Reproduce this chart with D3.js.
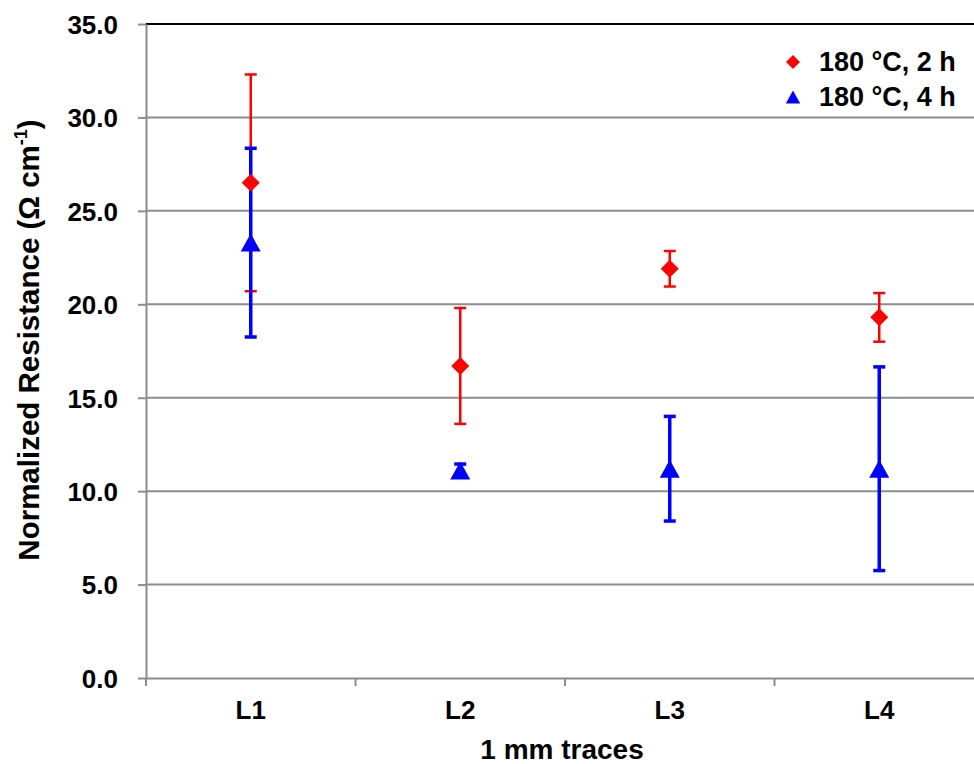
<!DOCTYPE html>
<html lang="en">
<head>
  <meta charset="UTF-8">
  <title>Normalized Resistance, 1 mm traces</title>
  <script src="https://d3js.org/d3.v7.min.js"></script>
  <style>
    body {
      margin: 0;
      background: #fff;
      font-family: Arial, "Liberation Sans", sans-serif;
    }
    svg text {
      font-weight: bold;
      fill: #000;
    }
  </style>
</head>
<body>
  <svg width="974" height="764"></svg>

  <script>
    // data
    const categories = ["L1", "L2", "L3", "L4"];
    const series2h = [26.5, 16.7, 21.9, 19.3];
    const err2h = [5.8, 3.1, 0.95, 1.3];
    const series4h = [23.3, 11.1, 11.2, 11.2];
    const err4h = [5.05, 0.35, 2.8, 5.45];
    const yTicks = [0, 5, 10, 15, 20, 25, 30, 35];
    const legendLabels = ["180 \u00B0C, 2 h", "180 \u00B0C, 4 h"];

    const svg = d3.select("svg");

    const x = d3.scaleBand()
      .domain(categories)
      .range([146, 984]);

    const y = d3.scaleLinear()
      .domain([0, 35])
      .range([678, 24]);

    // gridlines
    svg.append("g")
      .selectAll("line")
      .data(yTicks.filter(d => d > 0 && d < 35))
      .enter()
      .append("line")
      .attr("x1", 146)
      .attr("x2", 974)
      .attr("y1", d => y(d))
      .attr("y2", d => y(d))
      .attr("stroke", "#8c8c8c")
      .attr("stroke-width", 2);

    // top border
    svg.append("line")
      .attr("x1", 146).attr("x2", 974)
      .attr("y1", y(35)).attr("y2", y(35))
      .attr("stroke", "#000")
      .attr("stroke-width", 2);

    // y axis
    const yAxis = svg.append("g")
      .attr("transform", "translate(146,0)")
      .call(d3.axisLeft(y).tickValues(yTicks).tickFormat(d3.format(".1f")).tickSize(8).tickSizeOuter(0));
    yAxis.select(".domain").attr("stroke", "#8c8c8c").attr("stroke-width", 2);
    yAxis.selectAll(".tick line").attr("stroke", "#8c8c8c").attr("stroke-width", 2);
    yAxis.selectAll(".tick text")
      .attr("x", -28)
      .attr("dy", "0.36em")
      .attr("font-size", "26px")
      .attr("font-family", "Arial, 'Liberation Sans', sans-serif");

    // x axis
    const xAxis = svg.append("g")
      .attr("transform", `translate(0,${y(0)})`)
      .call(d3.axisBottom(x).tickSize(0).tickSizeOuter(0));
    xAxis.select(".domain").attr("stroke", "#8c8c8c").attr("stroke-width", 2);
    xAxis.selectAll(".tick text")
      .attr("y", 23)
      .attr("font-size", "26px")
      .attr("font-family", "Arial, 'Liberation Sans', sans-serif");

    // category boundary ticks
    const bounds = categories.map(c => x(c)).concat([x.range()[1]]);
    svg.append("g")
      .selectAll("line")
      .data(bounds)
      .enter()
      .append("line")
      .attr("x1", d => d).attr("x2", d => d)
      .attr("y1", y(0)).attr("y2", y(0) + 8)
      .attr("stroke", "#8c8c8c")
      .attr("stroke-width", 2);

    // axis titles
    svg.append("text")
      .attr("x", 562)
      .attr("y", 759)
      .attr("text-anchor", "middle")
      .attr("font-size", "28px")
      .text("1 mm traces");

    const yTitle = svg.append("text")
      .attr("transform", "translate(39,340) rotate(-90)")
      .attr("text-anchor", "middle")
      .attr("font-size", "29.5px");
    yTitle.append("tspan").text("Normalized Resistance (\u03A9 cm");
    yTitle.append("tspan").attr("font-size", "18px").attr("dy", -12).text("-1");
    yTitle.append("tspan").attr("dy", 12).text(")");

    const cx = c => x(c) + x.bandwidth() / 2;

    function errorBars(vals, errs, color, width) {
      const g = svg.append("g")
        .selectAll("g")
        .data(categories)
        .enter()
        .append("g")
        .attr("stroke", color)
        .attr("stroke-width", width);
      g.append("line")
        .attr("x1", d => cx(d)).attr("x2", d => cx(d))
        .attr("y1", (d, i) => y(vals[i] + errs[i]))
        .attr("y2", (d, i) => y(vals[i] - errs[i]));
      g.append("line")
        .attr("x1", d => cx(d) - 6).attr("x2", d => cx(d) + 6)
        .attr("y1", (d, i) => y(vals[i] + errs[i]))
        .attr("y2", (d, i) => y(vals[i] + errs[i]));
      g.append("line")
        .attr("x1", d => cx(d) - 6).attr("x2", d => cx(d) + 6)
        .attr("y1", (d, i) => y(vals[i] - errs[i]))
        .attr("y2", (d, i) => y(vals[i] - errs[i]));
    }

    errorBars(series2h, err2h, "#ff0000", 2.5);
    errorBars(series4h, err4h, "#0000ff", 3.5);

    const diamond = "M0,-9L9,0L0,9L-9,0Z";
    const triangle = "M0,-9L10,9L-10,9Z";

    svg.append("g")
      .selectAll("path")
      .data(categories)
      .enter()
      .append("path")
      .attr("d", diamond)
      .attr("fill", "#ff0000")
      .attr("transform", (d, i) => `translate(${cx(d)},${y(series2h[i])})`);

    svg.append("g")
      .selectAll("path")
      .data(categories)
      .enter()
      .append("path")
      .attr("d", triangle)
      .attr("fill", "#0000ff")
      .attr("transform", (d, i) => `translate(${cx(d)},${y(series4h[i])})`);

    // legend
    const legend = svg.append("g");
    const markers = [diamond, triangle];
    const colors = ["#ff0000", "#0000ff"];
    legendLabels.forEach((label, i) => {
      const row = legend.append("g").attr("transform", `translate(793,${62 + i * 35})`);
      row.append("path")
        .attr("d", markers[i])
        .attr("fill", colors[i])
        .attr("transform", i === 0 ? "scale(0.78)" : "scale(0.72)");
      row.append("text")
        .attr("x", 26)
        .attr("y", 9)
        .attr("font-size", "27px")
        .text(label);
    });
  </script>
</body>
</html>
